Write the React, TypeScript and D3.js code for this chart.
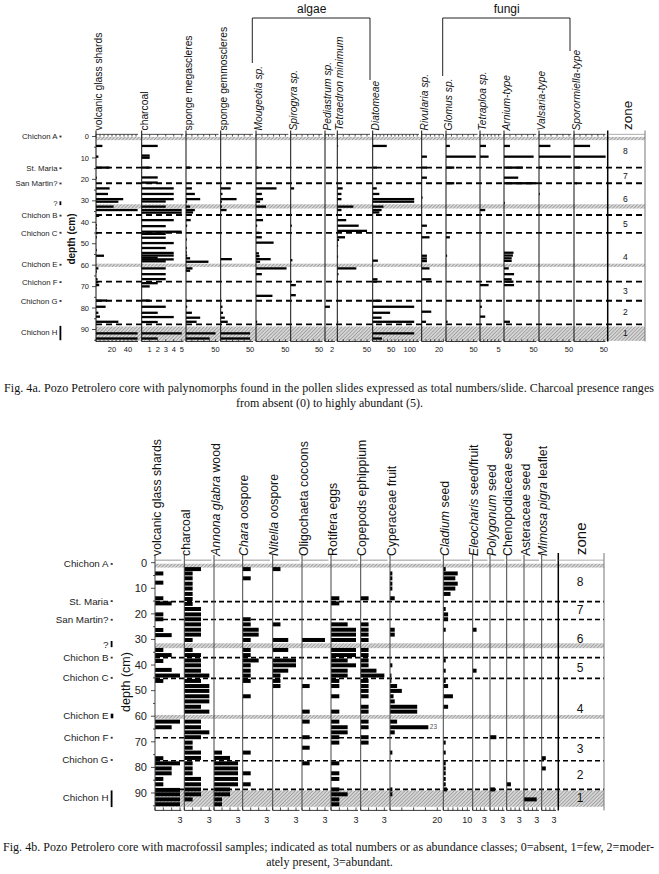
import React from 'react';
import * as d3 from 'd3';

type Row = [number, number];

// ================= Fig. 4a : palynomorphs (depth cm, count) =================
const aDepthTicks = [0, 10, 20, 30, 40, 50, 60, 70, 80, 90];
const tephraNames = ['Chichon A', 'St. Maria', 'San Martin?', '?', 'Chichon B', 'Chichon C', 'Chichon E', 'Chichon F', 'Chichon G', 'Chichon H'];
const aTephraDepths = [0, 14.8, 21.9, 31, 36.9, 44.9, 59.8, 67.9, 76.7, 91.2];
const aTephraKinds = ['dot', 'dot', 'dot', 'bar', 'dot', 'dot', 'dot', 'dot', 'dot', 'bar'];
const aTephraSpans: Row[] = [[0, 0], [0, 0], [0, 0], [30.2, 32], [0, 0], [0, 0], [0, 0], [0, 0], [0, 0], [88.3, 95]];
const aDashed = [14.5, 21.8, 36.6, 44.9, 67.7, 76.6, 87.6];
const aHatch: Row[] = [[0.2, 1.7], [31.6, 33.6], [59.3, 60.8], [88.6, 95.3]];
const zoneNames = ['8', '7', '6', '5', '4', '3', '2', '1'];
const aZoneDepths = [7, 18.3, 29.2, 40.8, 56, 72, 82, 91.5];

const aNames = ['volcanic glass shards', 'charcoal', 'sponge megascleres', 'sponge gemmoscleres', '*Mougeotia sp.*', '*Spirogyra sp.*', '*Pediastrum sp.*', '*Tetraedron minimum*', '*Diatomeae*', '*Rivularia sp.*', '*Glomus sp.*', '*Tetraploa sp.*', '*Arnium-type*', '*Valsaria-type*', '*Sporormiella-type*'];
const aMax = [52.5, 5.22, 55, 55, 55, 56, 2.86, 55, 125, 25.3, 57, 5.75, 54.5, 53.8, 52.8];
const aTickStep = [5, 1, 10, 10, 10, 10, 1, 10, 10, 5, 10, 1, 10, 10, 10];
const aTickLabels = [[20, 40], [1, 2, 3, 4, 5], [50], [50], [50], [50], [2], [50], [50, 100], [20], [50], [5], [50], [50], [50]];

const aVolcanic: Row[] = [[4.4, 8], [9.4, 3], [14.5, 17], [19.2, 1], [24.2, 17], [26.8, 15], [29.2, 34], [30.4, 28], [32.7, 22], [34.3, 52], [37, 4], [41.3, 1], [42.8, 1], [45, 2], [47, 1], [53, 1], [55.6, 10], [61.5, 3], [63, 1], [66.6, 2], [68, 3], [69.3, 4], [76.5, 14], [79.4, 12], [82.2, 3], [84, 5], [86.4, 28], [91.8, 52], [94.2, 52]];
const aCharcoal: Row[] = [[4.4, 2], [8.9, 1], [9.9, 1], [14.5, 1], [19.1, 2], [21.5, 2], [24.2, 4], [26.8, 4], [29.2, 4], [30.3, 3], [32.7, 3], [34.3, 5], [35.5, 5], [39, 4], [41.8, 3], [44.4, 5], [45.4, 3], [47.2, 3], [49.7, 4], [52, 3], [54.3, 4], [55.5, 4], [56.5, 2], [57.3, 4], [58.2, 3], [61.5, 3], [64.2, 3], [66.5, 3], [68.4, 2], [69.9, 1], [76.5, 1], [79.4, 3], [82.2, 2], [84.2, 4], [86.5, 2], [91.8, 5], [94.2, 2]];
const aSpongeMega: Row[] = [[14.5, 7], [24.2, 10], [26.8, 15], [29.2, 24], [30.4, 2], [32.7, 7], [34.3, 15], [35.4, 12], [39, 8], [41.6, 2], [48, 1], [52, 1], [54, 1], [55.5, 2], [56.8, 7], [58.4, 38], [61.5, 11], [62.6, 7], [76.6, 2], [79.4, 2], [82.2, 10], [84.5, 24], [86.4, 18], [91.8, 50], [94.2, 40]];
const aSpongeGemmo: Row[] = [[24.2, 17], [26.8, 3], [29.2, 27], [30.4, 2], [32.7, 2], [34.3, 10], [57.2, 19], [79.4, 3], [82.2, 4], [84.5, 7], [86.4, 12], [91.8, 50], [94.2, 50]];
const aMougeotia: Row[] = [[14.5, 4], [24.2, 35], [26.8, 10], [29.2, 12], [30.4, 7], [32.7, 17], [39, 12], [41.6, 2], [44.9, 6], [47, 10], [49.5, 30], [54.5, 5], [55.8, 6], [57.2, 25], [58.4, 7], [61.5, 52], [64.2, 10], [74.3, 28], [86.4, 2]];
const aSpirogyra: Row[] = [[24.2, 6], [41.6, 2], [57.7, 3], [69.3, 9], [74, 9]];
const aPediastrum: Row[] = [[79.4, 1.4]];
const aTetraedron: Row[] = [[4.4, 1], [24.2, 9], [26.8, 7], [29.2, 7], [32.7, 27], [34.3, 7], [39, 15], [41.6, 36], [44, 50], [47, 13], [48.2, 3], [51, 1], [56, 1], [61.5, 32], [64.2, 2], [86.4, 1]];
const aDiatomeae: Row[] = [[4.4, 38], [14.5, 11], [24.2, 11], [26.8, 18], [29.2, 112], [30.4, 112], [32.7, 29], [34.3, 24], [35.4, 18], [57.9, 14], [66.6, 13], [67.7, 11], [76.6, 20], [79.4, 112], [82.2, 47], [84.5, 24], [86.4, 112], [91.8, 112], [94.2, 25]];
const aRivularia: Row[] = [[9.4, 6], [14.5, 6], [19.2, 6], [28.5, 1], [41.6, 6], [47, 9], [55.6, 6], [56.9, 6], [58.1, 6], [61.5, 9], [66.6, 11], [81.7, 11], [86.4, 5]];
const aGlomus: Row[] = [[4.4, 7], [9.4, 54], [14.5, 15], [21.8, 15], [47, 7], [55.6, 2], [86.4, 3]];
const aTetraploa: Row[] = [[4.4, 1.6], [9.4, 2.3], [34.3, 1.4], [69.3, 2.3], [79.4, 0.5], [84, 1.4]];
const aArnium: Row[] = [[4.4, 10], [9.4, 50], [14.5, 32], [19.2, 24], [21.8, 54], [31, 1], [54.2, 16], [55.5, 15], [56.8, 13], [58, 13], [61.5, 8], [64.2, 17], [66.6, 13], [67.7, 16], [69.3, 17], [86.4, 10]];
const aValsaria: Row[] = [[4.4, 19], [9.4, 53], [14.5, 5], [26.8, 1]];
const aSporormiella: Row[] = [[4.4, 27], [9.4, 53], [14.5, 10], [21.8, 5]];
const aSeries = [aVolcanic, aCharcoal, aSpongeMega, aSpongeGemmo, aMougeotia, aSpirogyra, aPediastrum, aTetraedron, aDiatomeae, aRivularia, aGlomus, aTetraploa, aArnium, aValsaria, aSporormiella];

// ================= Fig. 4b : macrofossils (depth cm, number / class) =================
const bDepthTicks = [0, 10, 20, 30, 40, 50, 60, 70, 80, 90];
const bTephraDepths = [0.5, 15, 22.3, 32, 37.1, 45, 59.9, 68.4, 77.1, 91.7];
const bTephraKinds = ['dot', 'dot', 'dot', 'bar', 'dot', 'dot', 'square', 'dot', 'dot', 'bar'];
const bTephraSpans: Row[] = [[0, 0], [0, 0], [0, 0], [30.6, 33], [0, 0], [0, 0], [59, 60.8], [0, 0], [0, 0], [89, 95.5]];
const bDashed = [15.2, 22.2, 37.1, 45.2, 68.4, 77.4, 88.6];
const bHatch: Row[] = [[0.4, 1.9], [31.5, 33.4], [59.5, 61], [89, 95.4]];
const bZoneDepths = [7.4, 18.5, 29.6, 41, 57, 72.8, 83, 92];

const bNames = ['volcanic glass shards', 'charcoal', '*Annona glabra* wood', '*Chara* oospore', '*Nitella* oospore', 'Oligochaeta cocoons', 'Rotifera eggs', 'Copepods ephippium', 'Cyperaceae fruit', '*Cladium* seed', '*Eleocharis* seed/fruit', '*Polygonum* seed', 'Chenopodiaceae seed', 'Asteraceae seed', '*Mimosa pigra* leaflet'];
const bMax = [3.18, 3.26, 3.31, 3.44, 3.45, 3.46, 3.24, 3.4, 21.56, 11.1, 3.83, 3.43, 3.52, 3.54, 3.49];
const bTickStep = [1, 1, 1, 1, 1, 1, 1, 1, 5, 2, 1, 1, 1, 1, 1];
const bTickLabels = [[3], [3], [3], [3], [3], [3], [3], [3], [20], [10], [3], [3], [3], [3], [3]];
const bCyperaceaeBreak = 16.2;

const bVolcanic: Row[] = [[4.2, 1], [7.8, 1], [13.9, 1], [15.9, 2], [20.2, 1], [22.1, 1], [26.3, 1], [28.3, 2], [34.1, 1], [36.1, 2], [38.4, 1], [41.9, 2], [44.1, 3], [46.2, 1], [62.1, 3], [64.3, 2], [76.4, 1], [78.4, 3], [80.4, 2], [82.3, 2], [84.5, 1], [86.6, 1], [88.8, 3], [90.5, 3], [92.5, 3], [94.4, 3]];
const bCharcoal: Row[] = [[2.5, 2], [4.2, 1], [6.1, 1], [8.2, 1], [10.1, 1], [12.2, 1], [14.2, 1], [16.1, 1], [18.1, 2], [20.2, 2], [22.1, 2], [24.1, 2], [26.2, 2], [28.1, 2], [30.2, 1], [34.1, 1], [36.1, 2], [38.2, 2], [40.1, 2], [42.2, 2], [44.1, 3], [46.2, 2], [48.2, 3], [50.1, 3], [52.2, 3], [54.2, 3], [56.3, 2], [58.2, 3], [62.1, 2], [64.3, 2], [66.3, 3], [68.2, 2], [70.3, 1], [72.3, 1], [74.2, 2], [76.3, 2], [78.4, 1], [80.4, 1], [82.3, 1], [84.5, 2], [86.6, 2], [88.6, 2], [90.5, 2], [92.5, 1]];
const bAnnona: Row[] = [[74.2, 1], [76.3, 2], [78.4, 3], [80.4, 3], [82.3, 3], [84.5, 3], [86.6, 3], [88.6, 2], [90.5, 2], [92.5, 1], [94.4, 1]];
const bChara: Row[] = [[2.5, 1], [6.1, 1], [22.1, 1], [24.1, 1], [26.2, 2], [28.1, 2], [30.2, 1], [34.1, 1], [36.1, 1], [38.2, 2], [40.1, 1], [42.2, 1], [44.1, 1], [46.2, 1], [52.2, 1], [74.2, 1], [82.3, 1], [86.6, 1]];
const bNitella: Row[] = [[2.5, 1], [24.1, 1], [30.2, 2], [34.1, 2], [38.2, 3], [40.1, 3], [42.2, 2], [44.1, 1], [46.2, 1], [48.2, 1]];
const bOligochaeta: Row[] = [[30.2, 3], [48.2, 1], [58.2, 1], [62.1, 1], [68.2, 1], [72.3, 1], [78.4, 1]];
const bRotifera: Row[] = [[13.9, 1], [15.9, 1], [24.1, 2], [26.2, 3], [28.1, 3], [30.2, 3], [34.1, 3], [36.1, 3], [38.2, 2], [40.1, 3], [42.2, 2], [44.1, 2], [46.2, 1], [48.2, 1], [52.2, 1], [58.2, 1], [62.1, 1], [64.3, 2], [66.3, 2], [68.2, 1], [70.3, 1], [78.4, 1], [82.3, 1], [84.5, 1], [88.6, 1], [90.5, 2], [92.5, 1], [94.4, 1]];
const bCopepods: Row[] = [[13.9, 1], [24.1, 1], [26.2, 1], [28.1, 1], [30.2, 1], [34.1, 1], [36.1, 1], [38.2, 1], [40.1, 1], [42.2, 2], [44.1, 3], [46.2, 1], [48.2, 1], [50.1, 1], [52.2, 1], [56.3, 1], [58.2, 1], [62.1, 1], [64.3, 1], [68.2, 1], [70.3, 1]];
const bCyperaceae: Row[] = [[4.2, 1], [6.1, 1], [8.2, 1], [10.1, 1], [13.9, 2], [26.2, 2], [28.1, 2], [40.1, 1], [44.1, 0.6], [46.2, 0.6], [48.2, 3], [50.1, 5], [52.2, 1.5], [54.2, 2], [56.3, 11.5], [58.2, 11.5], [62.1, 3], [64.3, 23], [66.3, 2], [74.2, 1], [88.6, 1], [90.5, 1]];
const bCladium: Row[] = [[2.5, 1], [4.2, 6], [6.1, 5], [8.2, 6], [10.1, 5], [12.2, 3], [18.1, 1], [20.2, 2], [22.1, 2], [26.2, 1], [38.2, 1], [42.2, 1], [46.2, 1], [48.2, 2], [52.2, 4], [56.3, 2], [70.3, 1], [74.2, 1], [78.4, 1], [80.4, 1], [82.3, 1], [84.5, 1], [86.6, 1], [88.6, 1.5]];
const bEleocharis: Row[] = [[26.2, 1], [42.2, 1]];
const bPolygonum: Row[] = [[68.2, 1.5], [88.6, 1.2]];
const bChenopodiaceae: Row[] = [[86.6, 1]];
const bAsteraceae: Row[] = [[92.5, 3]];
const bMimosa: Row[] = [[76.4, 1], [80.4, 1]];
const bSeries = [bVolcanic, bCharcoal, bAnnona, bChara, bNitella, bOligochaeta, bRotifera, bCopepods, bCyperaceae, bCladium, bEleocharis, bPolygonum, bChenopodiaceae, bAsteraceae, bMimosa];

const captionA1 = 'Fig. 4a. Pozo Petrolero core with palynomorphs found in the pollen slides expressed as total numbers/slide. Charcoal presence ranges';
const captionA2 = 'from absent (0) to highly abundant (5).';
const captionB1 = 'Fig. 4b. Pozo Petrolero core with macrofossil samples; indicated as total numbers or as abundance classes; 0=absent, 1=few, 2=moder-';
const captionB2 = 'ately present, 3=abundant.';

const sans = "'Liberation Sans', Arial, Helvetica, sans-serif";
const serif = "'Liberation Serif', 'Times New Roman', Times, serif";

type Spec = {
  key: string;
  yRange: [number, number];
  topD: number; botD: number;
  names: string[]; series: Row[][]; maxes: number[]; steps: number[]; tickLabels: number[][];
  x0: number[]; x1: number[];
  caps?: (number | null)[];
  barH: number; headerFont: number; headerY: number; headerDx: number; colTop: number;
  axisColor: string; topTicks: boolean; tickFont: number; tickLabelY: number; tickLen: number;
  xLeft: number; zoneL: number; zoneR: number; zoneTop: number; zoneX: number; zoneFont: number; zoneDepths: number[];
  zoneHeaderFont: number; zoneHeaderY: number;
  dashed: number[]; dashW: number; dashArr: string; hatch: Row[];
  depthTicks: number[]; depthFont: number; depthLabelX: number; depthAxisX: number;
  depthTitleX: number; depthTitleY: number; depthTitleFont: number; depthTitleWeight: string;
  tDepths: number[]; tKinds: string[]; tSpans: Row[]; tTextX: number; tMarkX: number; tFont: number;
};

function headerText(label: string, x: number, y: number, fs: number, key: string) {
  const segs = label.split('*');
  return (
    <text key={key} transform={`translate(${x},${y}) rotate(-90)`} fontSize={fs} fontFamily={sans} fill="#111">
      {segs.map((s, i) => (s === '' ? null : <tspan key={i} fontStyle={i % 2 ? 'italic' : 'normal'}>{s}</tspan>))}
    </text>
  );
}

function figure(s: Spec) {
  const y = d3.scaleLinear().domain([0, 90]).range(s.yRange);
  const yTop = y(s.topD);
  const yBot = y(s.botD);
  const els: React.ReactNode[] = [];
  const k = s.key;

  s.hatch.forEach(([a, b], i) => {
    els.push(<rect key={`${k}h${i}`} x={s.xLeft} y={y(a)} width={s.zoneR - s.xLeft} height={y(b) - y(a)} fill={`url(#hatch)`} />);
  });
  s.dashed.forEach((d, i) => {
    els.push(<line key={`${k}d${i}`} x1={s.xLeft} x2={s.zoneR} y1={y(d)} y2={y(d)} stroke="#000" strokeWidth={s.dashW} strokeDasharray={s.dashArr} />);
  });

  s.names.forEach((name, i) => {
    const x = d3.scaleLinear().domain([0, s.maxes[i]]).range([s.x0[i], s.x1[i]]);
    const ticks = d3.range(0, s.maxes[i] + 1e-9, s.steps[i]);
    const cap = s.caps ? s.caps[i] : null;
    s.series[i].forEach(([d, v], j) => {
      const vv = cap != null ? Math.min(v, cap) : v;
      els.push(<rect key={`${k}b${i}_${j}`} x={x(0)} y={y(d) - s.barH / 2} width={Math.max(0.8, x(vv) - x(0))} height={s.barH} fill="#000" />);
      if (cap != null && v > cap) {
        els.push(<text key={`${k}bt${i}_${j}`} x={x(vv) + 1.5} y={y(d) + 2.2} fontSize={6.5} fontFamily={sans} fill="#555">{v}</text>);
      }
    });
    els.push(<line key={`${k}v${i}`} x1={x(0)} x2={x(0)} y1={s.colTop} y2={yBot} stroke={s.axisColor} strokeWidth={1} />);
    els.push(<line key={`${k}t${i}`} x1={x(0)} x2={s.x1[i]} y1={yTop} y2={yTop} stroke={s.topTicks ? '#222' : '#777'} strokeWidth={0.8} />);
    els.push(<line key={`${k}bo${i}`} x1={x(0)} x2={s.x1[i]} y1={yBot} y2={yBot} stroke="#222" strokeWidth={0.9} />);
    ticks.forEach((t, j) => {
      if (s.topTicks) {
        els.push(<line key={`${k}tt${i}_${j}`} x1={x(t)} x2={x(t)} y1={yTop} y2={yTop + s.tickLen} stroke="#222" strokeWidth={0.8} />);
      }
      els.push(<line key={`${k}bk${i}_${j}`} x1={x(t)} x2={x(t)} y1={yBot} y2={yBot - s.tickLen} stroke="#222" strokeWidth={0.8} />);
    });
    s.tickLabels[i].forEach((t, j) => {
      els.push(<text key={`${k}tl${i}_${j}`} x={x(t)} y={s.tickLabelY} fontSize={s.tickFont} fontFamily={sans} textAnchor="middle" fill="#222">{t}</text>);
    });
    els.push(headerText(name, x(0) + s.headerDx, s.headerY, s.headerFont, `${k}hd${i}`));
  });

  els.push(<line key={`${k}zl`} x1={s.zoneL} x2={s.zoneL} y1={s.zoneTop} y2={yBot} stroke="#000" strokeWidth={1.5} />);
  els.push(<line key={`${k}zr`} x1={s.zoneR} x2={s.zoneR} y1={s.zoneTop} y2={yBot} stroke="#777" strokeWidth={1} />);
  els.push(<line key={`${k}zt`} x1={s.zoneL} x2={s.zoneR} y1={yTop} y2={yTop} stroke="#888" strokeWidth={0.7} />);
  const zoneMid = (s.zoneL + s.zoneR) / 2;
  els.push(headerText('zone', s.zoneX + s.zoneHeaderFont * 0.3, s.zoneHeaderY, s.zoneHeaderFont, `${k}zh`));
  zoneNames.forEach((z, i) => {
    els.push(<text key={`${k}zn${i}`} x={zoneMid - 1} y={y(s.zoneDepths[i]) + s.zoneFont * 0.35} fontSize={s.zoneFont} fontFamily={sans} textAnchor="middle" fill="#111">{z}</text>);
  });

  d3.range(0, 95.1, 5).forEach((t, i) => {
    const major = t % 10 === 0;
    els.push(<line key={`${k}dt${i}`} x1={s.depthAxisX - (major ? 4 : 2)} x2={s.depthAxisX} y1={y(t)} y2={y(t)} stroke="#222" strokeWidth={0.8} />);
  });
  s.depthTicks.forEach((t, i) => {
    els.push(<text key={`${k}dl${i}`} x={s.depthLabelX} y={y(t) + s.depthFont * 0.35} fontSize={s.depthFont} fontFamily={sans} textAnchor="end" fill="#222">{t}</text>);
  });
  els.push(
    <text key={`${k}dtitle`} transform={`translate(${s.depthTitleX},${s.depthTitleY}) rotate(-90)`} fontSize={s.depthTitleFont} fontWeight={s.depthTitleWeight} fontFamily={sans} textAnchor="middle" fill="#111">depth (cm)</text>
  );

  tephraNames.forEach((n, i) => {
    const d = s.tDepths[i];
    els.push(<text key={`${k}tp${i}`} x={s.tTextX} y={y(d) + s.tFont * 0.35} fontSize={s.tFont} fontFamily={sans} textAnchor="end" fill="#222">{n}</text>);
    const kind = s.tKinds[i];
    if (kind === 'dot') {
      els.push(<rect key={`${k}tm${i}`} x={s.tMarkX} y={y(d) - 0.9} width={2} height={1.8} fill="#333" />);
    } else {
      const [a, b] = s.tSpans[i];
      els.push(<rect key={`${k}tm${i}`} x={s.tMarkX} y={y(a)} width={kind === 'square' ? 2.6 : 1.8} height={y(b) - y(a)} fill="#000" />);
    }
  });

  return els;
}

export default function App() {
  const specA: Spec = {
    key: 'A', yRange: [136.5, 329.5], topD: -1, botD: 95.6,
    names: aNames, series: aSeries, maxes: aMax, steps: aTickStep, tickLabels: aTickLabels,
    x0: [96, 141.7, 186, 220.7, 256, 290.7, 325, 337.3, 372.7, 421.7, 446, 480, 504, 539, 574],
    x1: [138, 183.5, 218.5, 253, 288.3, 322.5, 335, 370, 419, 443.7, 477.5, 501.5, 536.3, 571.3, 605.5],
    barH: 2.3, headerFont: 10.3, headerY: 130.5, headerDx: 5.8, colTop: 130.5,
    axisColor: '#111', topTicks: true, tickFont: 7.5, tickLabelY: 352, tickLen: 2.2,
    xLeft: 96, zoneL: 607.7, zoneR: 645, zoneTop: 130.5, zoneX: 628.3, zoneFont: 8.5, zoneDepths: aZoneDepths,
    zoneHeaderFont: 13.5, zoneHeaderY: 130,
    dashed: aDashed, dashW: 1.8, dashArr: '6 4', hatch: aHatch,
    depthTicks: aDepthTicks, depthFont: 7.5, depthLabelX: 89, depthAxisX: 96,
    depthTitleX: 74.5, depthTitleY: 239, depthTitleFont: 10, depthTitleWeight: 'bold',
    tDepths: aTephraDepths, tKinds: aTephraKinds, tSpans: aTephraSpans, tTextX: 57.5, tMarkX: 59.5, tFont: 7.8,
  };
  const specB: Spec = {
    key: 'B', yRange: [562.7, 793], topD: -1, botD: 96.8,
    names: bNames, series: bSeries, maxes: bMax, steps: bTickStep, tickLabels: bTickLabels,
    x0: [155, 184.3, 214, 242.7, 272.7, 302, 331, 360.7, 390, 443.3, 472.7, 490, 506.7, 524, 541.7],
    x1: [181.5, 211.5, 240.5, 270.2, 299.5, 328.5, 358, 387.5, 441, 470, 487.5, 504.5, 521.5, 539, 556],
    caps: [null, null, null, null, null, null, null, null, bCyperaceaeBreak, null, null, null, null, null, null],
    barH: 4, headerFont: 12.3, headerY: 556, headerDx: 5.6, colTop: 555,
    axisColor: '#444', topTicks: false, tickFont: 9, tickLabelY: 823, tickLen: 3,
    xLeft: 155, zoneL: 558.3, zoneR: 604, zoneTop: 553, zoneX: 581.7, zoneFont: 12, zoneDepths: bZoneDepths,
    zoneHeaderFont: 15, zoneHeaderY: 555,
    dashed: bDashed, dashW: 1.6, dashArr: '5 3', hatch: bHatch,
    depthTicks: bDepthTicks, depthFont: 11, depthLabelX: 147, depthAxisX: 155,
    depthTitleX: 130, depthTitleY: 682, depthTitleFont: 12.5, depthTitleWeight: 'normal',
    tDepths: bTephraDepths, tKinds: bTephraKinds, tSpans: bTephraSpans, tTextX: 108.5, tMarkX: 110.7, tFont: 9.8,
  };

  return (
    <svg width={659} height={874} viewBox="0 0 659 874" style={{ position: 'absolute', left: 0, top: 0, background: '#fff' }}>
      <defs>
        <pattern id="hatch" width={2.5} height={2.5} patternUnits="userSpaceOnUse" patternTransform="rotate(45)">
          <rect width={2.5} height={2.5} fill="#d6d6d6" />
          <line x1={0} y1={0} x2={0} y2={2.5} stroke="#777" strokeWidth={1} />
        </pattern>
      </defs>
      <rect x={0} y={0} width={659} height={874} fill="#fff" />

      <text x={311.7} y={13} fontSize={12} fontFamily={sans} textAnchor="middle" fill="#111">algae</text>
      <polyline points="252.3,63 252.3,18 370,18 370,80" fill="none" stroke="#222" strokeWidth={1} />
      <text x={506.7} y={13} fontSize={12} fontFamily={sans} textAnchor="middle" fill="#111">fungi</text>
      <polyline points="442.7,76 442.7,18 570,18 570,51" fill="none" stroke="#222" strokeWidth={1} />

      {figure(specA)}

      <text x={4} y={392} fontSize={12} fontFamily={serif} textLength={650} lengthAdjust="spacing" fill="#111">{captionA1}</text>
      <text x={329.5} y={406.5} fontSize={12} fontFamily={serif} textAnchor="middle" fill="#111">{captionA2}</text>

      {figure(specB)}

      <text x={3} y={851} fontSize={12} fontFamily={serif} textLength={651} lengthAdjust="spacing" fill="#111">{captionB1}</text>
      <text x={329.5} y={865.5} fontSize={12} fontFamily={serif} textAnchor="middle" fill="#111">{captionB2}</text>
    </svg>
  );
}
